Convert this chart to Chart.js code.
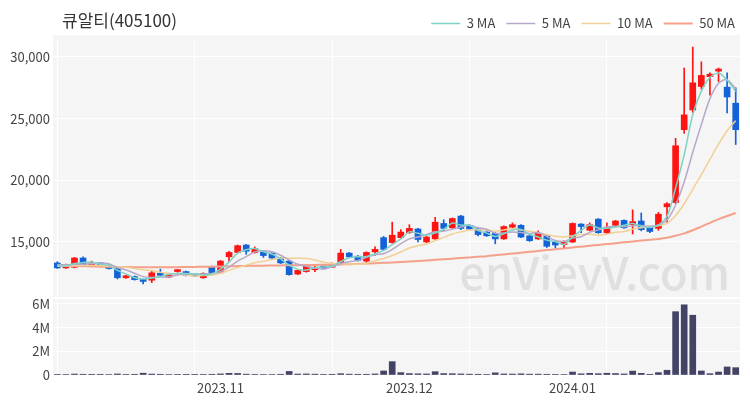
<!DOCTYPE html>
<html>
<head>
<meta charset="utf-8">
<script src="https://cdn.jsdelivr.net/npm/chart.js@4.4.1/dist/chart.umd.min.js"></script>
<style>
    html, body { margin: 0; padding: 0; background: #fff; }
    #wrap { position: relative; width: 750px; height: 400px; }
    #title { position: absolute; left: 62px; top: 7px; font: 17px 'Noto Sans CJK KR', 'Noto Sans', sans-serif; color: #333; }
</style>
</head>
<body>
<div id="wrap">
    <canvas id="stockChart" width="750" height="400"></canvas>
    <div id="title">큐알티(405100)</div>
</div>
<script>
// Trading days (2023.10.04 - 2024.01.29)
const dates = [
    '2023.10.04','2023.10.05','2023.10.06','2023.10.10','2023.10.11','2023.10.12','2023.10.13','2023.10.16','2023.10.17','2023.10.18',
    '2023.10.19','2023.10.20','2023.10.23','2023.10.24','2023.10.25','2023.10.26','2023.10.27','2023.10.30','2023.10.31','2023.11.01',
    '2023.11.02','2023.11.03','2023.11.06','2023.11.07','2023.11.08','2023.11.09','2023.11.10','2023.11.13','2023.11.14','2023.11.15',
    '2023.11.16','2023.11.17','2023.11.20','2023.11.21','2023.11.22','2023.11.23','2023.11.24','2023.11.27','2023.11.28','2023.11.29',
    '2023.11.30','2023.12.01','2023.12.04','2023.12.05','2023.12.06','2023.12.07','2023.12.08','2023.12.11','2023.12.12','2023.12.13',
    '2023.12.14','2023.12.15','2023.12.18','2023.12.19','2023.12.20','2023.12.21','2023.12.22','2023.12.26','2023.12.27','2023.12.28',
    '2024.01.02','2024.01.03','2024.01.04','2024.01.05','2024.01.08','2024.01.09','2024.01.10','2024.01.11','2024.01.12','2024.01.15',
    '2024.01.16','2024.01.17','2024.01.18','2024.01.19','2024.01.22','2024.01.23','2024.01.24','2024.01.25','2024.01.26','2024.01.29'
];

const opens = [
    13300,12900,12950,13700,13150,13250,13100,12850,12100,12200,
    11950,11900,12450,12150,12600,12600,12350,12100,12950,12500,
    13800,14150,14750,14150,14200,14100,13700,13450,12400,12600,
    12750,13000,12950,13300,14100,13850,13450,14200,15350,14950,
    15350,15750,16050,15000,15250,16500,16150,17100,16350,16050,
    15800,15700,15250,16200,16350,15500,15250,15500,15000,14800,
    15000,16450,15950,16850,15750,16350,16750,16400,16700,16200,
    16100,17850,18200,24100,25700,27600,28400,28850,27550,26250
];
const highs = [
    13400,13200,13750,13800,13450,13300,13150,12900,12300,12250,
    12000,12650,12800,12400,12750,12650,12400,12500,13050,13500,
    14250,14750,14800,14600,14250,14150,13750,13500,12750,13150,
    13100,13050,13300,14400,14150,13900,14200,14600,15450,16600,
    16000,16400,16100,15500,17000,16800,16950,17150,16400,16100,
    15850,15750,16300,16550,16400,15550,15900,15550,15050,15100,
    16550,16500,16550,16900,16550,16750,16800,17600,17350,16250,
    17400,18200,23400,29100,30800,29600,28700,29100,28700,27500
];
const lows = [
    12850,12850,12900,13100,13100,13100,12800,12000,12050,11900,
    11600,11700,12250,12100,12550,12250,12200,12050,12450,12450,
    13400,14100,14000,14100,13750,13600,13250,12300,12350,12550,
    12600,12850,12950,13250,13750,13450,13300,13900,14300,14900,
    15300,15700,15000,14950,15200,15900,16100,16000,16000,15500,
    15450,14850,15200,16150,15350,15050,15200,14550,14500,14500,
    14950,15750,15900,15700,15700,16300,16100,15650,15900,15750,
    15950,16600,18100,23800,25500,27400,26900,28000,25450,22900
];
const closes = [
    12900,13150,13700,13150,13300,13150,12850,12100,12250,11950,
    11800,12500,12300,12350,12700,12300,12250,12450,12500,13450,
    14150,14700,14250,14450,13900,13700,13300,12350,12700,13100,
    12950,12900,13250,14100,13800,13500,14150,14400,14400,15550,
    15800,16100,15200,15400,16600,16100,16900,16100,16050,15600,
    15500,15250,16250,16400,15400,15100,15700,14650,14750,15000,
    16500,16250,16400,15750,16200,16700,16150,16650,16000,15850,
    17250,18100,22800,25300,27900,28500,28600,29000,26750,24100
];
const volumes = [
    50000,40000,80000,60000,30000,30000,40000,90000,50000,60000,
    150000,80000,60000,40000,50000,30000,30000,50000,60000,90000,
    140000,130000,70000,50000,40000,40000,60000,300000,80000,90000,
    70000,50000,60000,110000,70000,60000,60000,90000,340000,1130000,
    200000,120000,100000,90000,280000,120000,110000,90000,70000,60000,
    50000,180000,90000,80000,100000,70000,70000,60000,50000,40000,
    250000,100000,140000,110000,150000,120000,90000,330000,140000,60000,
    200000,400000,5350000,5930000,5050000,340000,110000,250000,680000,620000
];

// Moving averages as shown on the chart
const ma3 = [
    13100,13050,13250,13330,13380,13200,13100,12700,12400,12100,
    12000,12080,12200,12380,12450,12450,12420,12330,12400,12800,
    13370,14100,14370,14470,14200,14020,13630,13120,12780,12720,
    12920,12980,13030,13420,13720,13800,13820,14020,14320,14780,
    15250,15820,15700,15570,15730,16030,16530,16370,16350,15920,
    15720,15450,15670,15970,16020,15630,15400,15150,15030,14800,
    15420,15920,16380,16130,16120,16220,16350,16500,16270,16170,
    16370,17070,19380,22070,25330,27230,28330,28700,28120,27200
];
const ma5 = [
    13150,13150,13200,13200,13240,13290,13230,12910,12730,12460,
    12190,12120,12160,12180,12330,12430,12380,12410,12440,12590,
    12960,13450,13810,14200,14290,14200,13920,13540,13190,13030,
    12880,12800,12980,13260,13400,13510,13760,13990,14050,14400,
    14860,15250,15410,15610,15820,15880,16040,16220,16350,16150,
    16030,15700,15730,15800,15760,15680,15770,15450,15120,15040,
    15320,15430,15780,15980,16220,16260,16240,16290,16340,16270,
    16380,16770,18000,19860,22270,24520,26620,27860,28150,27400
];
const ma10 = [
    13050,13050,13100,13100,13100,13100,13050,13000,12950,12850,
    12740,12680,12540,12460,12400,12310,12250,12290,12310,12460,
    12700,12920,13110,13320,13440,13580,13690,13680,13700,13660,
    13540,13360,13260,13230,13220,13200,13280,13490,13660,13900,
    14190,14510,14700,14830,15110,15370,15650,15820,15980,15990,
    15960,15870,15980,16080,15960,15860,15740,15590,15460,15400,
    15500,15600,15620,15550,15630,15790,15840,16040,16160,16250,
    16320,16510,17150,18100,19270,20450,21700,22930,24010,24830
];
const ma50 = [
    13100,13080,13060,13040,13020,13000,12990,12980,12970,12960,
    12950,12950,12950,12950,12960,12970,12980,12990,13000,13010,
    13030,13050,13060,13070,13080,13090,13100,13110,13120,13130,
    13140,13150,13160,13180,13200,13220,13250,13280,13310,13340,
    13380,13420,13460,13500,13550,13600,13650,13700,13750,13800,
    13850,13920,13990,14060,14130,14200,14270,14340,14410,14480,
    14550,14620,14690,14760,14830,14900,14970,15040,15110,15180,
    15250,15350,15500,15700,15950,16250,16550,16850,17100,17350
];

// Axis ticks
const priceTicks = [15000, 20000, 25000, 30000];
const volumeTicks = [0, 2000000, 4000000, 6000000];

document.addEventListener('DOMContentLoaded', function() {
    const UP = '#ff1414';
    const DOWN = '#1462d8';
    const FONT = "'Noto Sans CJK KR', 'Noto Sans', sans-serif";

    const candleColors = closes.map((c, i) => c >= opens[i] ? UP : DOWN);

    // Gray panel background + watermark
    const panelPlugin = {
        id: 'panels',
        beforeDraw(chart) {
            const { ctx, chartArea, scales } = chart;
            ctx.save();
            ctx.fillStyle = '#f5f5f5';
            const top = 35;
            ctx.fillRect(chartArea.left, top, chartArea.width, scales.y.bottom - top);
            ctx.fillRect(chartArea.left, scales.vol.top + 2, chartArea.width, scales.vol.bottom - scales.vol.top - 2);
            ctx.restore();
        },
        beforeDatasetsDraw(chart) {
            const { ctx, chartArea, scales } = chart;
            ctx.save();
            ctx.fillStyle = '#e0e0e0';
            ctx.font = '500 45px ' + FONT;
            ctx.textAlign = 'right';
            ctx.textBaseline = 'alphabetic';
            ctx.fillText('enVievV.com', chartArea.right - 10, scales.y.bottom - 7);
            ctx.restore();
        }
    };

    const ctx = document.getElementById('stockChart').getContext('2d');

    new Chart(ctx, {
        data: {
            labels: dates,
            datasets: [
                {
                    type: 'line', label: '3 MA', data: ma3, yAxisID: 'y',
                    borderColor: '#7fd3c6', borderWidth: 1.5, pointRadius: 0, tension: 0.3, order: 0
                },
                {
                    type: 'line', label: '5 MA', data: ma5, yAxisID: 'y',
                    borderColor: '#b7a8ca', borderWidth: 1.5, pointRadius: 0, tension: 0.3, order: 0
                },
                {
                    type: 'line', label: '10 MA', data: ma10, yAxisID: 'y',
                    borderColor: '#f2d095', borderWidth: 1.5, pointRadius: 0, tension: 0.3, order: 0
                },
                {
                    type: 'line', label: '50 MA', data: ma50, yAxisID: 'y',
                    borderColor: '#f5a08b', borderWidth: 2, pointRadius: 0, tension: 0.3, order: 0
                },
                {
                    // wicks
                    type: 'bar', label: 'wick', yAxisID: 'y',
                    data: lows.map((l, i) => [l, highs[i]]),
                    backgroundColor: candleColors, barThickness: 1, grouped: false, order: 2
                },
                {
                    // bodies
                    type: 'bar', label: 'body', yAxisID: 'y',
                    data: opens.map((o, i) => [o, closes[i]]),
                    backgroundColor: candleColors, barThickness: 6, minBarLength: 2, grouped: false, order: 1
                },
                {
                    type: 'bar', label: 'volume', yAxisID: 'vol',
                    data: volumes,
                    backgroundColor: '#434366', barThickness: 6, grouped: false, order: 1
                }
            ]
        },
        options: {
            responsive: false,
            animation: false,
            layout: { padding: { top: 6, right: 4, left: 0, bottom: 0 } },
            plugins: {
                tooltip: { enabled: false },
                legend: {
                    position: 'top',
                    align: 'end',
                    labels: {
                        filter: item => item.text.indexOf('MA') !== -1,
                        usePointStyle: true,
                        pointStyle: 'line',
                        pointStyleWidth: 29,
                        padding: 11,
                        color: '#444',
                        font: { family: FONT, size: 13 }
                    }
                }
            },
            scales: {
                x: {
                    type: 'category',
                    offset: true,
                    grid: {
                        offset: false,
                        drawTicks: false,
                        color: c => c.index % 16 === 0 ? '#ffffff' : 'rgba(0,0,0,0)'
                    },
                    border: { display: false },
                    ticks: {
                        autoSkip: false,
                        maxRotation: 0,
                        padding: 5,
                        color: '#444',
                        font: { family: FONT, size: 13 },
                        callback: function(value, index) {
                            if (index === 0) return '';
                            const cur = dates[index].slice(0, 7);
                            const prev = dates[index - 1].slice(0, 7);
                            return cur !== prev ? cur : '';
                        }
                    },
                    afterFit: s => { s.height = 25; }
                },
                vol: {
                    type: 'linear',
                    position: 'left',
                    stack: 'panels',
                    stackWeight: 78,
                    min: 0,
                    max: 6590000,
                    grid: { color: '#ffffff', drawTicks: false },
                    border: { display: false },
                    afterBuildTicks: s => { s.ticks = volumeTicks.map(v => ({ value: v })); },
                    ticks: {
                        autoSkip: false,
                        padding: 3,
                        color: '#444',
                        font: { family: FONT, size: 13 },
                        callback: v => v === 0 ? '0' : (v / 1000000) + 'M'
                    },
                    afterFit: s => { s.width = 53; }
                },
                y: {
                    type: 'linear',
                    position: 'left',
                    stack: 'panels',
                    stackWeight: 257,
                    min: 10540,
                    max: 31370,
                    grid: { color: '#ffffff', drawTicks: false },
                    border: { display: false },
                    afterBuildTicks: s => { s.ticks = priceTicks.map(v => ({ value: v })); },
                    ticks: {
                        autoSkip: false,
                        padding: 3,
                        color: '#444',
                        font: { family: FONT, size: 13 },
                        callback: v => v.toLocaleString('en-US')
                    },
                    afterFit: s => { s.width = 53; }
                },
                // empty strip on the right so the legend can reach further than the plot
                edge: {
                    type: 'linear',
                    position: 'right',
                    grid: { display: false },
                    border: { display: false },
                    ticks: { display: false },
                    afterFit: s => { s.width = 6; }
                }
            }
        },
        plugins: [panelPlugin]
    });
});
</script>
</body>
</html>
